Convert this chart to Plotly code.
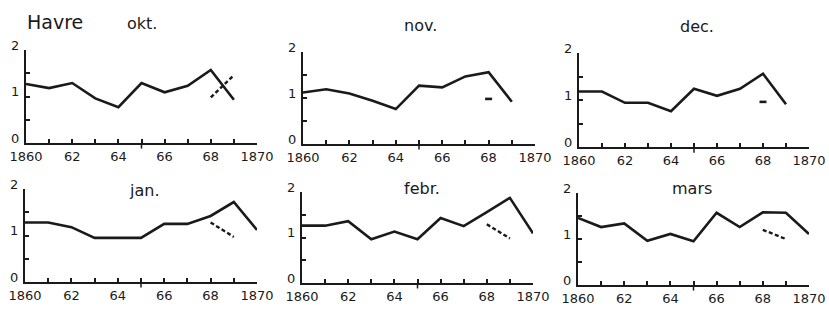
import plotly.graph_objects as go

W, H = 829, 309

# ---------------- data ----------------
years_top = [1860, 1861, 1862, 1863, 1864, 1865, 1866, 1867, 1868, 1869]
years_bot = [1860, 1861, 1862, 1863, 1864, 1865, 1866, 1867, 1868, 1869, 1870]

okt = [1.27, 1.18, 1.29, 0.96, 0.77, 1.29, 1.09, 1.23, 1.57, 0.93]
nov = [1.12, 1.19, 1.10, 0.94, 0.76, 1.27, 1.23, 1.47, 1.56, 0.92]
dec = [1.18, 1.18, 0.94, 0.94, 0.76, 1.24, 1.09, 1.24, 1.56, 0.91]
jan = [1.28, 1.28, 1.18, 0.95, 0.95, 0.95, 1.25, 1.25, 1.42, 1.72, 1.12]
febr = [1.26, 1.26, 1.36, 0.96, 1.13, 0.96, 1.43, 1.25, 1.56, 1.87, 1.09]
mars = [1.46, 1.26, 1.34, 0.96, 1.11, 0.95, 1.57, 1.26, 1.58, 1.57, 1.11]

# secondary (dashed) estimates
okt_dash_x, okt_dash_y = [1868, 1869], [0.98, 1.46]
jan_dash_x, jan_dash_y = [1868, 1869], [1.28, 0.97]
febr_dash_x, febr_dash_y = [1868, 1869], [1.29, 0.98]
mars_dash_x, mars_dash_y = [1868, 1869], [1.20, 1.00]
nov_mark_x, nov_mark_y = [1868], [0.98]
dec_mark_x, dec_mark_y = [1868], [0.96]

x_tickvals = [1860, 1861, 1862, 1863, 1864, 1865, 1866, 1867, 1868, 1869, 1870]
x_ticktext = ["1860", "", "62", "", "64", "", "66", "", "68", "", "1870"]
y_tickvals = [0, 0.5, 1, 1.5, 2]
y_ticktext = ["0", "", "1", "", "2"]

titles = ["okt.", "nov.", "dec.", "jan.", "febr.", "mars"]

# ---------------- layout geometry (pixels) ----------------
# (x_left, x_right, y_zero, y_two, title_x, title_y)
panels = [
    (26, 257, 143, 50, 142, 24),
    (303, 535, 144, 52, 420, 25),
    (579, 809, 147, 53, 697, 27),
    (25, 257, 282, 189, 144, 190),
    (302, 533, 283, 192, 422, 188),
    (578, 809, 285, 193, 692, 189),
]

def px(x):
    return x / W

def py(y):
    return (H - y) / H

font_family = "DejaVu Sans, Liberation Sans, sans-serif"
ink = "#1a1a1a"

fig = go.Figure()

series = [
    (years_top, okt), (years_top, nov), (years_top, dec),
    (years_bot, jan), (years_bot, febr), (years_bot, mars),
]
dashes = {0: (okt_dash_x, okt_dash_y), 3: (jan_dash_x, jan_dash_y),
          4: (febr_dash_x, febr_dash_y), 5: (mars_dash_x, mars_dash_y)}
marks = {1: (nov_mark_x, nov_mark_y), 2: (dec_mark_x, dec_mark_y)}

for i, (xs, ys) in enumerate(series):
    n = i + 1
    xa = "x" if n == 1 else f"x{n}"
    ya = "y" if n == 1 else f"y{n}"
    fig.add_trace(go.Scatter(x=xs, y=ys, xaxis=xa, yaxis=ya, mode="lines",
                             line=dict(color=ink, width=2.6), showlegend=False,
                             hoverinfo="skip"))
    if i in dashes:
        dx, dy = dashes[i]
        fig.add_trace(go.Scatter(x=dx, y=dy, xaxis=xa, yaxis=ya, mode="lines",
                                 line=dict(color=ink, width=2.4, dash="4px,2.5px"),
                                 showlegend=False, hoverinfo="skip"))
    if i in marks:
        mx, my = marks[i]
        fig.add_trace(go.Scatter(x=mx, y=my, xaxis=xa, yaxis=ya, mode="markers",
                                 marker=dict(symbol="line-ew", size=5,
                                             line=dict(color=ink, width=2.6)),
                                 showlegend=False, hoverinfo="skip"))

    xl, xr, y0, y2, tx, ty = panels[i]
    axis_common = dict(showline=True, linecolor=ink, linewidth=2, showgrid=False,
                       zeroline=False, ticks="inside", ticklen=4, tickwidth=1.5,
                       tickcolor=ink, automargin=False,
                       tickfont=dict(family=font_family, size=13, color=ink),
                       fixedrange=True)
    fig.layout[f"xaxis{'' if n == 1 else n}"] = dict(
        axis_common, domain=[px(xl), px(xr)], range=[1860, 1870],
        anchor=ya, tickvals=x_tickvals, ticktext=x_ticktext,
        ticklabelstandoff=0)
    fig.layout[f"yaxis{'' if n == 1 else n}"] = dict(
        axis_common, domain=[py(y0), py(y2)], range=[0, 2],
        anchor=xa, tickvals=y_tickvals, ticktext=y_ticktext,
        ticklabelshift=-5, ticklabelstandoff=2)
    # downward tick at 1865
    fig.add_shape(type="line", xref=xa, yref=f"{ya} domain", x0=1865, x1=1865,
                  y0=-0.06, y1=0, line=dict(color=ink, width=1.5))
    fig.add_annotation(text=titles[i], x=px(tx), y=py(ty), xref="paper", yref="paper",
                       showarrow=False, xanchor="center", yanchor="middle",
                       font=dict(family=font_family, size=16, color=ink))

fig.add_annotation(text="Havre", x=px(55), y=py(22), xref="paper", yref="paper",
                   showarrow=False, xanchor="center", yanchor="middle",
                   font=dict(family=font_family, size=19, color=ink))

fig.update_layout(template="none", width=W, height=H,
                  margin=dict(l=0, r=0, t=0, b=0, autoexpand=False),
                  paper_bgcolor="white", plot_bgcolor="rgba(0,0,0,0)")

fig.write_html("out.html", config={"displayModeBar": False},
               post_script="document.body.style.margin='0';document.body.style.overflow='hidden';")
